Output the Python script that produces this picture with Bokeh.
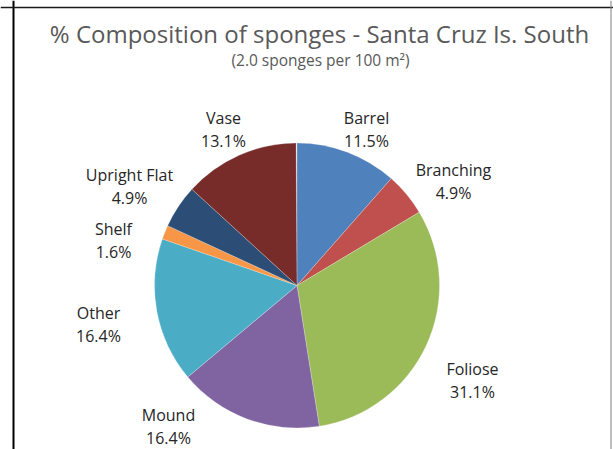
import math
from bokeh.plotting import figure
from bokeh.models import Range1d, Span, ColumnDataSource
from bokeh.core.properties import value
from bokeh.embed import file_html
from bokeh.resources import INLINE

# ---- data ----
categories = ["Barrel", "Branching", "Foliose", "Mound", "Other", "Shelf", "Upright Flat", "Vase"]
percentages = [11.5, 4.9, 31.1, 16.4, 16.4, 1.6, 4.9, 13.1]
title_text = "% Composition of sponges - Santa Cruz Is. South"
subtitle_text = "(2.0 sponges per 100 m\u00b2)"

# ---- style / layout ----
colors = ["#4F81BD", "#C0504D", "#9BBB59", "#8064A2", "#4BACC6", "#F79646", "#2C4D75", "#772C2A"]
# label block offsets from the pie centre, in pixels (x right, y down)
label_offsets = {
    "Barrel": (69.5, -156), "Branching": (156.5, -104), "Foliose": (175.5, 95),
    "Mound": (-128.5, 141), "Other": (-198.5, 39), "Shelf": (-183.5, -45),
    "Upright Flat": (-167.5, -99), "Vase": (-73.5, -156),
}
W, H = 613, 449
PAGE_H = 449
cx_page, cy_page, R = 296.5, 285.0, 142.5
FONT = "Open Sans"

def py(page_y):
    return PAGE_H - page_y

p = figure(width=W, height=H, output_backend="svg", toolbar_location=None,
           x_range=Range1d(0, W), y_range=Range1d(PAGE_H - H, PAGE_H),
           min_border=0, outline_line_color=None, background_fill_color="white",
           border_fill_color="white")
p.axis.visible = False
p.grid.visible = False

total = 100.0
starts, ends = [], []
cum = 0.0
for v in percentages:
    starts.append(math.pi / 2 - 2 * math.pi * cum / total)
    cum += v
    ends.append(math.pi / 2 - 2 * math.pi * cum / total)

src = ColumnDataSource(dict(cat=categories, start=starts, end=ends, color=colors))
p.wedge(x=cx_page, y=py(cy_page), radius=R, start_angle="start", end_angle="end",
        direction="clock", fill_color="color", line_color="white", line_width=0.4,
        line_alpha=0.6, source=src)

names_x, names_y, pct_x, pct_y, pct_txt = [], [], [], [], []
for c, v in zip(categories, percentages):
    dx, dy = label_offsets[c]
    lx = cx_page + dx
    ly = cy_page + dy
    names_x.append(lx); names_y.append(py(ly - 11.5))
    pct_x.append(lx); pct_y.append(py(ly + 11.5))
    pct_txt.append(f"{v:.1f}%")

p.text(x=names_x, y=names_y, text=categories, text_align="center", text_baseline="middle",
       text_font=value(FONT), text_font_size="16px", text_color="#262626")
p.text(x=pct_x, y=pct_y, text=pct_txt, text_align="center", text_baseline="middle",
       text_font=value(FONT), text_font_size="16px", text_color="#262626")

p.text(x=[319], y=[py(33)], text=[title_text], text_align="center", text_baseline="middle",
       text_font=value(FONT), text_font_size="24px", text_color="#595959")
p.text(x=[320], y=[py(59)], text=[subtitle_text], text_align="center", text_baseline="middle",
       text_font=value(FONT), text_font_size="15.5px", text_color="#595959")

# chart frame
p.add_layout(Span(location=13, dimension="height", line_color="black", line_width=2))
p.add_layout(Span(location=py(7), dimension="width", line_color="#1a1a1a", line_width=1.5))
p.add_layout(Span(location=610.5, dimension="height", line_color="#7f7f7f", line_width=1))

open("out.html", "w").write(file_html(p, INLINE))
